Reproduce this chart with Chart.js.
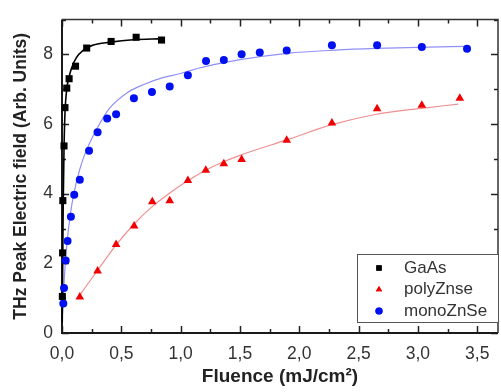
<!DOCTYPE html>
<html>
<head>
<meta charset="utf-8">
<script src="https://cdn.jsdelivr.net/npm/chart.js@4.4.1/dist/chart.umd.min.js"></script>
<style>
  html, body { margin: 0; padding: 0; background: #fff; overflow: hidden; }
  #wrap { width: 501px; height: 392px; overflow: hidden; }
  canvas { display: block; }
</style>
</head>
<body>
<div id="wrap"><canvas id="chart" width="503" height="392"></canvas></div>
<script>
// values
const xTickValues = [0, 0.5, 1, 1.5, 2, 2.5, 3, 3.5];
const yTickValues = [0, 2, 4, 6, 8];
const legendLabels = ["GaAs", "polyZnse", "monoZnSe"];

const gaasX = [0.003, 0.005, 0.007, 0.017, 0.025, 0.04, 0.06, 0.114, 0.208, 0.414, 0.625, 0.839];
const gaasY = [1.05, 2.3, 3.8, 5.37, 6.47, 7.03, 7.30, 7.66, 8.18, 8.37, 8.49, 8.41];

const polyX = [0.15, 0.30, 0.456, 0.608, 0.761, 0.908, 1.061, 1.212, 1.364, 1.514, 1.894, 2.275, 2.656, 3.033, 3.353];
const polyY = [1.03, 1.78, 2.54, 3.07, 3.77, 3.80, 4.38, 4.67, 4.86, 4.98, 5.53, 6.03, 6.44, 6.54, 6.74];

const monoX = [0.011, 0.017, 0.031, 0.047, 0.075, 0.103, 0.15, 0.228, 0.30, 0.381, 0.456, 0.606, 0.758, 0.908, 1.061, 1.214, 1.364, 1.514, 1.667, 1.894, 2.275, 2.656, 3.033, 3.414];
const monoY = [0.85, 1.29, 2.08, 2.64, 3.34, 3.97, 4.40, 5.23, 5.76, 6.16, 6.28, 6.74, 6.92, 7.08, 7.40, 7.81, 7.84, 8.00, 8.05, 8.11, 8.26, 8.26, 8.21, 8.16];

// fitted curves
const gaasFitX = [0.002, 0.004, 0.006, 0.01, 0.017, 0.025, 0.04, 0.06, 0.08, 0.12, 0.18, 0.25, 0.41, 0.6, 0.84];
const gaasFitY = [0.3, 1.2, 2.0, 3.6, 5.3, 6.3, 7.0, 7.35, 7.6, 7.9, 8.12, 8.25, 8.35, 8.42, 8.45];

const polyFitX = [0.15, 0.3, 0.45, 0.6, 0.75, 0.9, 1.05, 1.2, 1.35, 1.5, 1.9, 2.275, 2.65, 3.03, 3.34];
const polyFitY = [1.09, 1.8, 2.5, 3.1, 3.6, 4.0, 4.35, 4.65, 4.9, 5.1, 5.55, 5.98, 6.28, 6.45, 6.57];

const monoFitX = [0.005, 0.02, 0.04, 0.07, 0.1, 0.15, 0.2, 0.3, 0.4, 0.55, 0.7, 0.85, 1.0, 1.15, 1.3, 1.5, 1.9, 2.3, 2.65, 3.0, 3.41];
const monoFitY = [0.55, 1.6, 2.5, 3.4, 4.0, 4.7, 5.2, 5.9, 6.45, 6.9, 7.15, 7.33, 7.45, 7.6, 7.72, 7.85, 8.03, 8.12, 8.17, 8.2, 8.23];

function pts(xs, ys) {
  return xs.map((v, i) => ({x: v, y: ys[i]}));
}

const frameTicks = {
  id: 'frameTicks',
  beforeDatasetsDraw(chart) {
    const {ctx, chartArea: a, scales: {x, y}} = chart;
    ctx.save();
    ctx.strokeStyle = '#222';
    ctx.lineWidth = 1.5;
    ctx.beginPath();
    for (let i = 0; i * 0.25 <= x.max; i++) {
      const px = Math.round(x.getPixelForValue(i * 0.25)) + 0.5;
      const len = i % 2 === 0 ? 7 : 4;
      ctx.moveTo(px, a.bottom); ctx.lineTo(px, a.bottom - len);
      ctx.moveTo(px, a.top); ctx.lineTo(px, a.top + len);
    }
    for (let v = 0; v <= y.max; v++) {
      const py = Math.round(y.getPixelForValue(v)) + 0.5;
      const len = v % 2 === 0 ? 7 : 4;
      ctx.moveTo(a.left, py); ctx.lineTo(a.left + len, py);
      ctx.moveTo(a.right, py); ctx.lineTo(a.right - len, py);
    }
    ctx.stroke();
    ctx.lineWidth = 2;
    ctx.strokeStyle = '#1a1a1a';
    ctx.beginPath();
    ctx.moveTo(a.left, a.top); ctx.lineTo(a.left, a.bottom); ctx.lineTo(a.right, a.bottom);
    ctx.stroke();
    ctx.lineWidth = 1.5;
    ctx.strokeStyle = '#333';
    ctx.beginPath();
    ctx.moveTo(a.left, a.top); ctx.lineTo(a.right, a.top); ctx.lineTo(a.right, a.bottom);
    ctx.stroke();
    ctx.restore();
  }
};

const boxLegend = {
  id: 'boxLegend',
  afterDraw(chart) {
    const ctx = chart.ctx;
    const bx = 357, by = 254, bw = 141, bh = 68;
    ctx.save();
    ctx.fillStyle = '#fff';
    ctx.fillRect(bx, by, bw, bh);
    ctx.strokeStyle = '#555';
    ctx.lineWidth = 1;
    ctx.strokeRect(bx + 0.5, by + 0.5, bw, bh);
    ctx.font = '17px "Liberation Sans", Arial, sans-serif';
    ctx.textBaseline = 'middle';
    legendLabels.forEach((label, i) => {
      const ds = chart.data.datasets[i];
      const cy = by + 14 + i * 21.5;
      ctx.fillStyle = ds.backgroundColor;
      ctx.beginPath();
      Chart.helpers.drawPoint(ctx, {
        pointStyle: ds.pointStyle, radius: ds.pointStyle === 'rect' ? 3.8 : 3.6,
        borderWidth: 0, rotation: 0
      }, 379, cy);
      ctx.fill();
      ctx.fillStyle = '#333';
      ctx.fillText(label, 404, cy);
    });
    ctx.restore();
  }
};

new Chart(document.getElementById('chart'), {
  type: 'scatter',
  data: {
    datasets: [
      {label: legendLabels[0], data: pts(gaasX, gaasY), pointStyle: 'rect', pointRadius: 5,
       backgroundColor: '#000', borderColor: '#000', borderWidth: 0, clip: false, order: 0},
      {label: legendLabels[1], data: pts(polyX, polyY), pointStyle: 'triangle', pointRadius: 5,
       backgroundColor: '#f00000', borderColor: '#f00000', borderWidth: 0, clip: false, order: 0},
      {label: legendLabels[2], data: pts(monoX, monoY), pointStyle: 'circle', pointRadius: 4,
       backgroundColor: '#0010f0', borderColor: '#0010f0', borderWidth: 0, clip: false, order: 0},
      {label: 'GaAs fit', data: pts(gaasFitX, gaasFitY), showLine: true, pointRadius: 0,
       borderColor: '#000', borderWidth: 1.6, cubicInterpolationMode: 'monotone', clip: false, order: 1},
      {label: 'polyZnse fit', data: pts(polyFitX, polyFitY), showLine: true, pointRadius: 0,
       borderColor: '#f09090', borderWidth: 1.2, cubicInterpolationMode: 'monotone', order: 1},
      {label: 'monoZnSe fit', data: pts(monoFitX, monoFitY), showLine: true, pointRadius: 0,
       borderColor: '#9090f8', borderWidth: 1.2, cubicInterpolationMode: 'monotone', order: 1}
    ]
  },
  options: {
    responsive: false,
    animation: false,
    devicePixelRatio: 1,
    layout: {padding: {top: 5, right: 0, left: 0, bottom: 0}},
    plugins: {legend: {display: false}, tooltip: {enabled: false}},
    scales: {
      x: {
        type: 'linear', min: 0, max: 3.675,
        grid: {display: false, drawTicks: false}, border: {display: false},
        afterFit: s => { s.height = 59; },
        afterBuildTicks: s => { s.ticks = xTickValues.map(v => ({value: v})); },
        ticks: {
          padding: 11, color: '#333', maxRotation: 0,
          font: {family: '"Liberation Sans", Arial, sans-serif', size: 17.5},
          callback: v => v.toFixed(1).replace('.', ',')
        },
        title: {
          display: true, text: 'Fluence (mJ/cm²)', color: '#222',
          font: {family: '"Liberation Sans", Arial, sans-serif', size: 19, weight: 'bold'},
          padding: {top: 0, bottom: 4}
        }
      },
      y: {
        type: 'linear', min: 0, max: 9,
        grid: {display: false, drawTicks: false}, border: {display: false},
        afterFit: s => { s.width = 62; },
        afterBuildTicks: s => { s.ticks = yTickValues.map(v => ({value: v})); },
        ticks: {
          padding: 9, color: '#333',
          font: {family: '"Liberation Sans", Arial, sans-serif', size: 17.5}
        },
        title: {
          display: true, text: 'THz Peak Electric field (Arb. Units)', color: '#222',
          font: {family: '"Liberation Sans", Arial, sans-serif', size: 17.5, weight: 'bold'},
          padding: {top: 11, bottom: 0}
        }
      }
    }
  },
  plugins: [frameTicks, boxLegend]
});
</script>
</body>
</html>
